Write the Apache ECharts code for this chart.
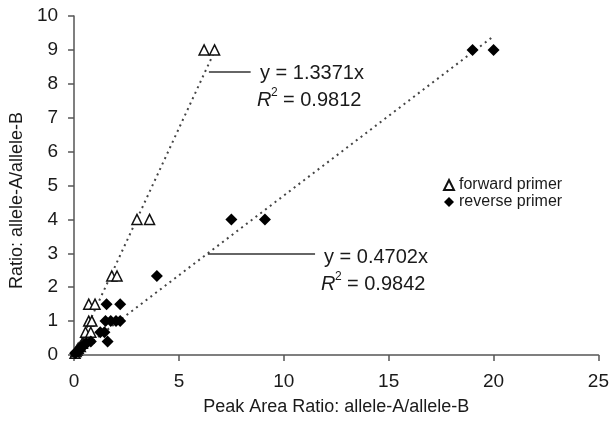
<!DOCTYPE html>
<html>
<head>
<meta charset="utf-8">
<script src="https://cdn.jsdelivr.net/npm/echarts@6/dist/echarts.min.js"></script>
<style>
  html, body { margin: 0; padding: 0; background: #fff; }
  #chart { width: 612px; height: 423px; }
</style>
</head>
<body>
<div id="chart"></div>
<script>
(function () {
    'use strict';

    // Datos (x = peak area ratio, y = ratio)
    var forwardX = [0.05, 0.1, 0.15, 0.2, 0.3, 0.4, 0.5, 0.6, 0.7, 0.55, 0.8, 0.7, 0.85, 0.7, 1.0, 1.8, 2.05, 3.0, 3.6, 6.2, 6.7];
    var forwardY = [0.05, 0.1, 0.15, 0.2, 0.25, 0.35, 0.45, 0.5, 0.5, 0.67, 0.67, 1, 1, 1.5, 1.5, 2.33, 2.33, 4, 4, 9, 9];
    var reverseX = [0.05, 0.1, 0.2, 0.25, 0.3, 0.4, 0.5, 0.6, 0.8, 1.25, 1.45, 1.6, 1.5, 1.75, 2.0, 2.2, 1.55, 2.2, 3.95, 7.5, 9.1, 19, 20];
    var reverseY = [0.05, 0.08, 0.1, 0.15, 0.2, 0.25, 0.3, 0.35, 0.4, 0.67, 0.67, 0.4, 1, 1, 1, 1, 1.5, 1.5, 2.33, 4, 4, 9, 9];

    // Pendientes de las rectas de tendencia (por el origen)
    var forwardSlope = 1.3371;
    var reverseSlope = 0.4702;
    var seriesNames = ['forward primer', 'reverse primer'];

    function pairs(xs, ys) {
        var out = [];
        for (var i = 0; i < xs.length; i++) out.push([xs[i], ys[i]]);
        return out;
    }
    function trend(xs, k) {
        var maxX = Math.max.apply(null, xs);
        return [[0, 0], [maxX, k * maxX]];
    }

    var FONT = '"Liberation Sans", Arial, sans-serif';
    var TXT = '#1a1a1a';
    var AXIS = '#555';
    var ANN = '20px ' + FONT;

    // Texto de anotación: ecuación y R² (con superíndice)
    function annotation(x, y, eq, r2) {
        return [
            { type: 'text', x: x + 3, y: y, style: { text: eq, font: ANN, fill: TXT, verticalAlign: 'middle' } },
            { type: 'text', x: x, y: y + 27, style: { text: 'R', font: 'italic ' + ANN, fill: TXT, verticalAlign: 'middle' } },
            { type: 'text', x: x + 14, y: y + 20, style: { text: '2', font: '12px ' + FONT, fill: TXT, verticalAlign: 'middle' } },
            { type: 'text', x: x + 26, y: y + 27, style: { text: '= ' + r2, font: ANN, fill: TXT, verticalAlign: 'middle' } }
        ];
    }

    function leader(coords) {
        return {
            silent: true,
            symbol: 'none',
            label: { show: false },
            lineStyle: { type: 'solid', color: '#333', width: 1.5 },
            data: [[{ coord: coords[0] }, { coord: coords[1] }]]
        };
    }

    var chart = echarts.init(document.getElementById('chart'));

    chart.setOption({
        animation: false,
        backgroundColor: '#fff',
        textStyle: { fontFamily: FONT, color: TXT },
        grid: { left: 72, right: 11, top: 16, bottom: 68 },
        legend: {
            orient: 'vertical',
            left: 438,
            top: 172,
            itemGap: 1,
            itemWidth: 10,
            itemHeight: 10,
            textStyle: { fontFamily: FONT, fontSize: 16, color: TXT },
            data: seriesNames
        },
        xAxis: {
            type: 'value',
            min: 0, max: 25, interval: 5,
            splitLine: { show: false },
            axisLine: { onZero: false, lineStyle: { color: AXIS, width: 1.5 } },
            axisTick: { length: 6, lineStyle: { color: AXIS, width: 1.5 } },
            axisLabel: { fontSize: 19, color: TXT, margin: 17, fontFamily: FONT },
            name: 'Peak Area Ratio: allele-A/allele-B',
            nameLocation: 'middle',
            nameGap: 43,
            nameTextStyle: { fontSize: 18, color: TXT, fontFamily: FONT }
        },
        yAxis: {
            type: 'value',
            min: 0, max: 10, interval: 1,
            splitLine: { show: false },
            axisLine: { show: true, onZero: false, lineStyle: { color: AXIS, width: 1.5 } },
            axisTick: { show: true, length: 6, lineStyle: { color: AXIS, width: 1.5 } },
            axisLabel: { fontSize: 19, color: TXT, margin: 16, fontFamily: FONT },
            name: 'Ratio: allele-A/allele-B',
            nameLocation: 'middle',
            nameGap: 44,
            nameTextStyle: { fontSize: 18, color: TXT, fontFamily: FONT, padding: [0, 30, 0, 0] }
        },
        series: [
            {
                name: 'trend forward',
                type: 'line',
                data: trend(forwardX, forwardSlope),
                showSymbol: false,
                symbol: 'none',
                lineStyle: { type: [2, 4], color: '#444', width: 2 },
                silent: true,
                z: 1,
                markLine: leader([[6.43, 8.35], [8.42, 8.35]])
            },
            {
                name: 'trend reverse',
                type: 'line',
                data: trend(reverseX, reverseSlope),
                showSymbol: false,
                symbol: 'none',
                lineStyle: { type: [2, 4], color: '#444', width: 2 },
                silent: true,
                z: 1,
                markLine: leader([[6.38, 2.98], [11.49, 2.98]])
            },
            {
                name: seriesNames[0],
                type: 'scatter',
                data: pairs(forwardX, forwardY),
                symbol: 'triangle',
                symbolSize: 10,
                itemStyle: { color: '#fff', borderColor: '#111', borderWidth: 1.5, opacity: 1 },
                z: 3
            },
            {
                name: seriesNames[1],
                type: 'scatter',
                data: pairs(reverseX, reverseY),
                symbol: 'diamond',
                symbolSize: 12,
                itemStyle: { color: '#000', opacity: 1 },
                z: 3
            }
        ],
        graphic: annotation(257, 73, 'y = 1.3371x', '0.9812')
            .concat(annotation(321, 257, 'y = 0.4702x', '0.9842'))
    });
})();
</script>
</body>
</html>
